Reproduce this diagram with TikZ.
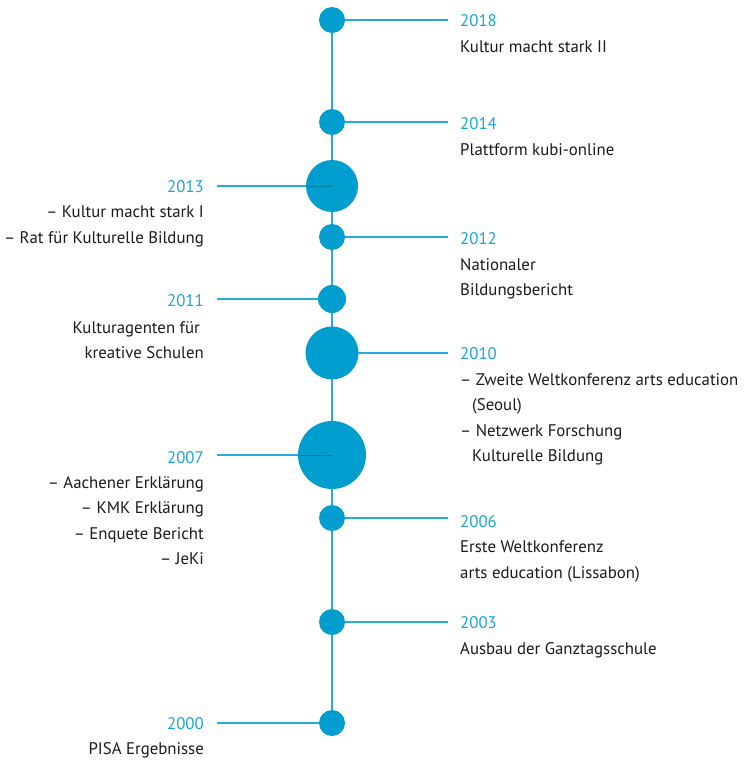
\documentclass[tikz,border=0pt]{standalone}
\usepackage{fontspec}
\setmainfont{PT Sans}
\definecolor{dotblue}{HTML}{009ECE}
\definecolor{lineblue}{HTML}{2BA9DB}
\definecolor{yearblue}{HTML}{1AA5D8}
\definecolor{txt}{HTML}{1A1A1A}
\begin{document}
\begin{tikzpicture}[x=1pt,y=-1pt,
  dot/.style={circle,fill=dotblue,inner sep=0pt,minimum size=#1},
  tick/.style={draw=lineblue,line width=1.8pt},
  year/.style={font=\fontsize{16.8}{25.5}\selectfont,text=yearblue,inner sep=0pt},
  rtext/.style={font=\fontsize{16.8}{25.5}\selectfont,text=txt,inner sep=0pt,align=left,anchor=base west},
  ltext/.style={font=\fontsize{16.8}{25.5}\selectfont,text=txt,inner sep=0pt,align=right,anchor=base east}]
\useasboundingbox (0,0) rectangle (746,761);
% axis
\coordinate (top) at (332,20);
\coordinate (bot) at (332,723);
\draw[draw=lineblue,line width=2.8pt] (top) -- (bot);
% right-side ticks
\foreach \n/\y in {a/20,b/122,d/237,f/353,h/518,i/622}{
  \coordinate (r\n) at (448,\y);
  \coordinate (c\n) at (332,\y);
  \draw[tick] (c\n) -- (r\n);
}
% left-side ticks
\foreach \n/\y in {c/186,e/299,g/455,j/723}{
  \coordinate (l\n) at (217,\y);
  \coordinate (c\n) at (332,\y);
  \draw[tick] (l\n) -- (c\n);
}
% dots
\node[dot=26pt] (d2018) at (ca) {};
\node[dot=26pt] (d2014) at (cb) {};
\node[dot=52pt] (d2013) at (cc) {};
\node[dot=26pt] (d2012) at (cd) {};
\node[dot=28pt] (d2011) at (ce) {};
\node[dot=53pt] (d2010) at (cf) {};
\node[dot=68pt] (d2007) at (cg) {};
\node[dot=26pt] (d2006) at (ch) {};
\node[dot=26pt] (d2003) at (ci) {};
\node[dot=26pt] (d2000) at (cj) {};
% faint lines inside big dots
\draw[draw=black!35!dotblue,line width=1pt,opacity=0.6] (306,186) -- (cc);
\draw[draw=black!35!dotblue,line width=1pt,opacity=0.6] (298,455) -- (cg);
% right labels (base anchor of multi-line nodes = last line)
\node[year,anchor=base west] (y2018) at (460,26.5) {2018};
\node[rtext] (t2018) at (460,52.5) {Kultur macht stark II};
\node[year,anchor=base west] (y2014) at (460,129.5) {2014};
\node[rtext] (t2014) at (460,155) {Plattform kubi-online};
\node[year,anchor=base west] (y2012) at (460,244.5) {2012};
\node[rtext] (t2012) at (460,295.5) {Nationaler\\Bildungsbericht};
\node[year,anchor=base west] (y2010) at (460,359.5) {2010};
\node[rtext] (t2010) at (460,461.5) {– Zweite Weltkonferenz arts education\\\hspace*{12pt}(Seoul)\\– Netzwerk Forschung\\\hspace*{12pt}Kulturelle Bildung};
\node[year,anchor=base west] (y2006) at (460,527) {2006};
\node[rtext] (t2006) at (460,578) {Erste Weltkonferenz\\arts education (Lissabon)};
\node[year,anchor=base west] (y2003) at (460,628.5) {2003};
\node[rtext] (t2003) at (460,654) {Ausbau der Ganztagsschule};
% left labels
\node[year,anchor=base east] (y2013) at (204,192) {2013};
\node[ltext] (t2013) at (204,243) {– Kultur macht stark I\\– Rat für Kulturelle Bildung};
\node[year,anchor=base east] (y2011) at (204,306) {2011};
\node[ltext] (t2011) at (204,358.5) {Kulturagenten für\hspace*{4pt}\\kreative Schulen};
\node[year,anchor=base east] (y2007) at (204,463) {2007};
\node[ltext] (t2007) at (204,564.5) {– Aachener Erklärung\\– KMK Erklärung\\– Enquete Bericht\\– JeKi};
\node[year,anchor=base east] (y2000) at (204,729) {2000};
\node[ltext] (t2000) at (204,754.5) {PISA Ergebnisse};
\end{tikzpicture}
\end{document}
